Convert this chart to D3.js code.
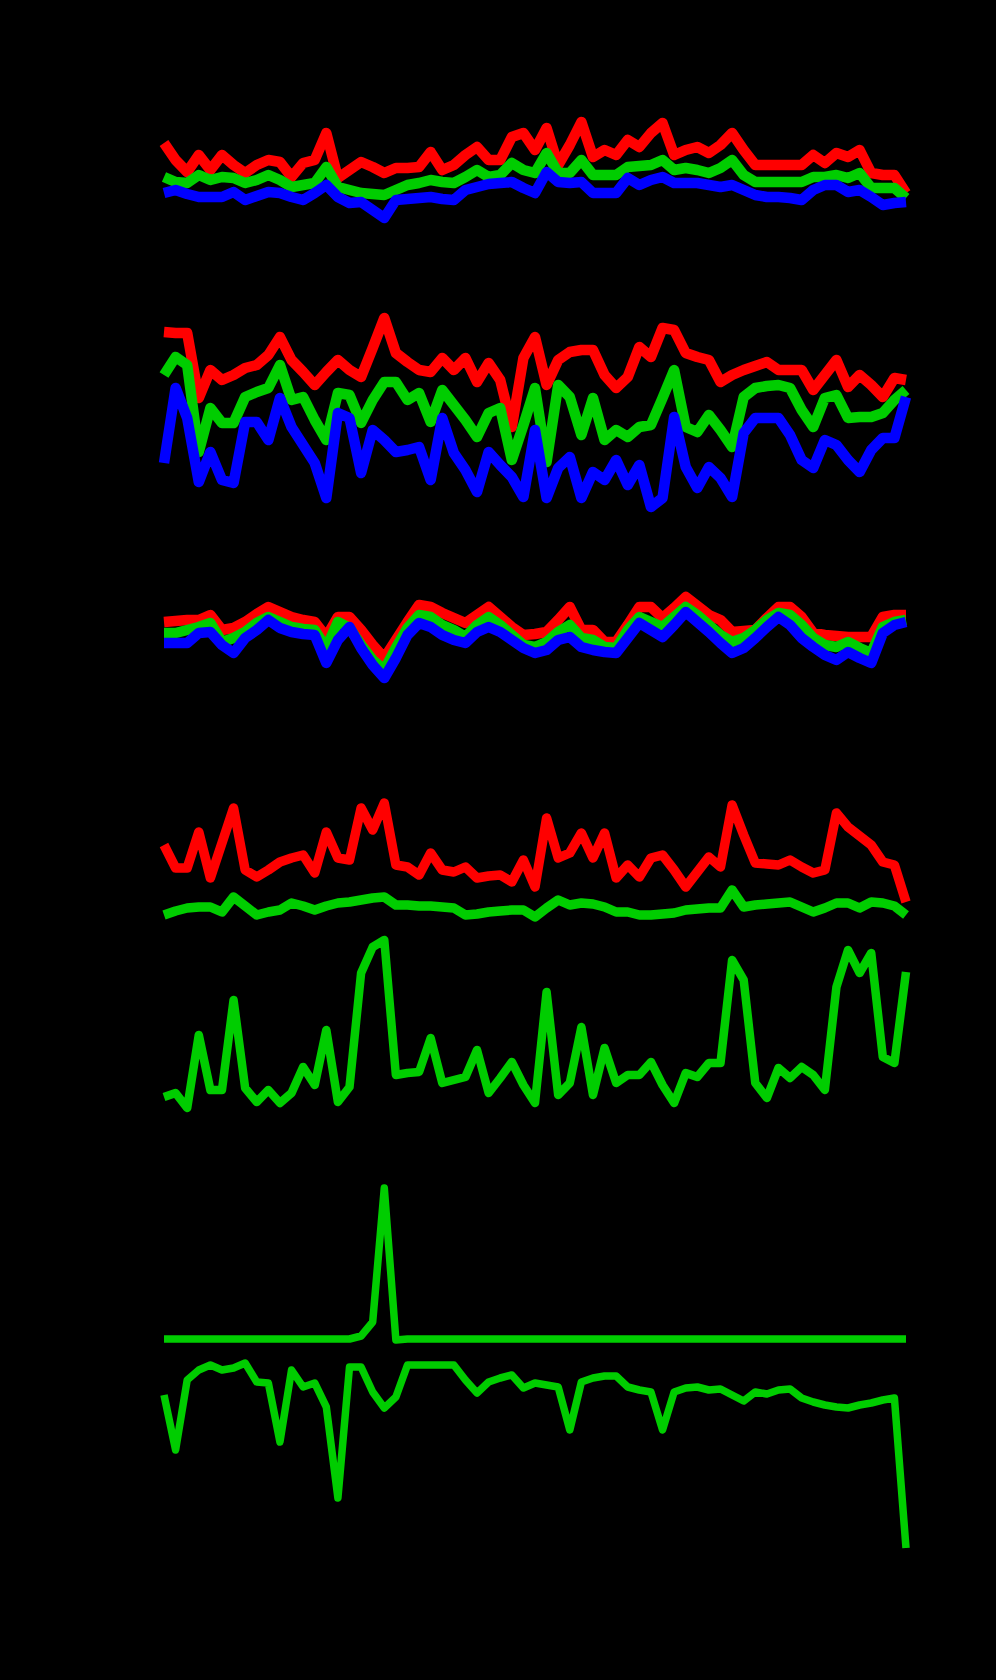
<!DOCTYPE html>
<html>
<head>
<meta charset="utf-8">
<script src="https://cdn.jsdelivr.net/npm/d3@7"></script>
<style>
html,body{margin:0;padding:0;background:#000;}
svg{display:block;}
</style>
</head>
<body>
<svg id="chart" width="996" height="1680"></svg>
<script>
// ---- data (65 samples per series) ----
const samples = d3.range(65);

const p1Red   = [87,70,58,75,60,75,65,57,65,70,68,53,67,70,97,52,60,68,63,57,62,62,63,78,60,65,75,83,70,70,93,97,80,102,65,85,108,73,80,75,90,83,97,107,75,80,83,77,85,97,80,65,65,65,65,65,75,67,77,73,80,57,55,55,37];
const p1Green = [53,48,47,55,50,53,52,47,50,55,50,43,45,47,63,43,40,37,36,35,40,45,47,50,48,47,53,60,53,55,67,60,57,77,57,57,70,55,55,55,63,64,65,70,60,62,60,57,62,70,55,48,48,48,48,48,53,53,55,52,57,42,42,42,32];
const p1Blue  = [37,40,36,33,33,33,38,30,34,38,37,33,30,37,45,33,27,28,20,12,30,31,32,33,31,30,40,43,46,47,48,42,37,58,48,47,48,37,37,37,52,45,50,53,47,47,47,45,43,45,40,35,33,33,32,30,40,45,45,38,40,33,25,27,28];

const p2Red   = [188,187,187,122,150,140,145,152,155,165,183,160,148,135,148,160,150,143,172,202,167,158,150,148,162,150,162,138,157,140,93,162,183,135,160,168,170,170,145,132,143,173,163,192,190,167,163,160,138,145,150,154,158,150,150,150,130,145,160,133,145,135,123,142,140];
const p2Green = [145,163,155,68,112,97,97,123,128,132,155,120,123,100,80,127,125,97,120,138,138,120,127,98,130,115,100,83,107,112,60,95,132,58,135,123,85,122,80,90,83,93,95,122,150,93,88,105,90,73,123,132,134,135,132,110,93,122,125,102,103,103,107,120,130];
const p2Blue  = [57,132,102,38,68,40,37,98,98,80,122,93,75,57,22,107,102,47,90,80,68,70,73,40,102,67,50,28,68,55,43,23,90,22,52,63,22,48,40,60,35,55,13,22,103,53,32,53,42,23,87,102,102,102,85,60,52,80,75,60,48,70,82,82,123];

const p3Red   = [68,69,70,70,75,60,62,68,76,83,78,73,70,68,53,73,73,60,45,32,50,68,85,83,77,72,67,75,83,73,63,55,56,58,70,83,60,60,48,48,65,83,83,72,82,93,84,75,70,58,59,60,72,83,83,73,57,55,54,53,53,53,73,75,75];
const p3Green = [57,57,60,63,67,48,52,58,67,73,68,63,61,60,42,68,62,45,30,20,42,62,75,73,65,60,53,65,73,65,55,45,43,48,58,65,52,50,43,42,60,73,68,63,73,83,75,65,55,48,52,60,70,77,75,65,52,45,43,48,42,37,63,68,70];
const p3Blue  = [47,47,47,57,58,45,37,52,60,70,62,58,56,55,27,50,63,42,25,12,32,55,67,63,55,50,47,58,63,58,50,42,37,40,50,53,43,40,38,37,52,67,60,53,65,78,68,58,47,37,42,52,63,73,65,52,43,35,30,38,32,27,57,65,68];

const p4Red   = [85,62,62,98,52,87,122,60,53,60,68,72,75,57,98,72,70,122,100,127,65,63,55,77,60,58,63,52,54,55,48,70,43,112,72,77,97,72,97,52,65,53,72,75,60,43,58,73,63,125,95,67,66,65,70,63,57,60,117,103,94,85,68,65,28];
const p4Green = [15,19,22,23,23,18,33,24,15,18,20,27,24,20,24,27,28,30,32,33,25,25,24,24,23,22,15,16,18,19,20,20,13,22,30,25,27,26,23,18,18,15,15,16,17,20,21,22,22,40,23,25,26,27,28,23,18,22,27,27,22,28,27,24,15];

const p5Green = [23,27,12,85,30,30,120,32,18,30,17,27,53,35,90,18,33,147,173,180,45,47,48,82,37,40,43,70,27,42,58,35,17,128,25,37,93,25,72,37,45,45,58,35,17,47,43,57,57,160,140,37,22,52,42,53,45,30,133,170,147,167,63,57,148];

const p6Upper = [221,221,221,221,221,221,221,221,221,221,221,221,221,221,221,221,221,224,238,372,220,221,221,221,221,221,221,221,221,221,221,221,221,221,221,221,221,221,221,221,221,221,221,221,221,221,221,221,221,221,221,221,221,221,221,221,221,221,221,221,221,221,221,221,221];
const p6Lower = [165,110,180,190,195,190,192,197,178,177,118,190,173,177,153,62,193,193,168,152,163,195,195,195,195,195,180,167,178,182,185,172,177,175,173,130,178,182,184,184,173,170,168,130,168,172,173,170,171,165,159,168,166,170,171,162,158,155,153,152,155,157,160,162,12];

// ---- layout ----
const RED = "#ff0000", GREEN = "#00cd00", BLUE = "#0000ff";
const svg = d3.select("#chart");
svg.append("rect").attr("width",996).attr("height",1680).attr("fill","#000");

const x = d3.scaleLinear().domain([0, samples.length - 1]).range([164, 906]);

const panels = [
  {bottom: 230,  h: 130, width: 10.5, series: [[p1Red,RED],[p1Green,GREEN],[p1Blue,BLUE]]},
  {bottom: 520,  h: 230, width: 10.5, series: [[p2Red,RED],[p2Green,GREEN],[p2Blue,BLUE]]},
  {bottom: 690,  h: 110, width: 10.5, series: [[p3Red,RED],[p3Green,GREEN],[p3Blue,BLUE]]},
  {bottom: 930,  h: 150, width: 9.5, series: [[p4Red,RED],[p4Green,GREEN]]},
  {bottom: 1120, h: 200, width: 8.5, series: [[p5Green,GREEN]]},
  {bottom: 1560, h: 400, width: 7.5, series: [[p6Upper,GREEN],[p6Lower,GREEN]]}
];

panels.forEach(p => {
  const y = d3.scaleLinear().domain([0, p.h]).range([p.bottom, p.bottom - p.h]);
  const line = d3.line().x((d,i) => x(samples[i])).y(d => y(d));
  const g = svg.append("g");
  p.series.forEach(([vals, col]) => {
    g.append("path")
      .attr("d", line(vals))
      .attr("fill","none")
      .attr("stroke", col)
      .attr("stroke-width", p.width)
      .attr("stroke-linejoin","round")
      .attr("stroke-linecap","butt");
  });
});
</script>
</body>
</html>
